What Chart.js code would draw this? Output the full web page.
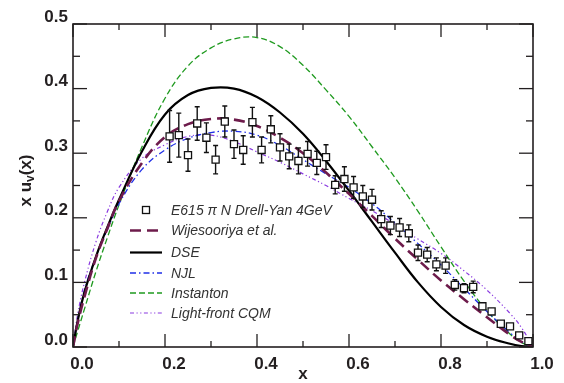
<!DOCTYPE html>
<html>
<head>
<meta charset="utf-8">
<script src="https://cdn.jsdelivr.net/npm/chart.js@4.4.1/dist/chart.umd.min.js"></script>
<style>
  html, body { margin: 0; padding: 0; background: #fff; }
  #wrap { width: 564px; height: 383px; }
</style>
</head>
<body>
<div id="wrap"><canvas id="chart" width="564" height="383"></canvas></div>
<script>
// E615 pi N Drell-Yan points: x, x u_v(x), error
const dataX = [0.21, 0.23, 0.25, 0.27, 0.29, 0.31, 0.33, 0.35, 0.37, 0.39,
               0.41, 0.43, 0.45, 0.47, 0.49, 0.51, 0.53, 0.55, 0.57, 0.59,
               0.61, 0.63, 0.65, 0.67, 0.69, 0.71, 0.73, 0.75, 0.77, 0.79,
               0.81, 0.83, 0.85, 0.87, 0.89, 0.91, 0.93, 0.95, 0.97, 0.99];
const dataY = [0.326, 0.328, 0.297, 0.346, 0.324, 0.290, 0.349, 0.314, 0.305, 0.348,
               0.305, 0.337, 0.309, 0.295, 0.288, 0.299, 0.285, 0.294, 0.251, 0.260,
               0.247, 0.233, 0.228, 0.198, 0.188, 0.185, 0.176, 0.146, 0.143, 0.128,
               0.126, 0.096, 0.091, 0.093, 0.063, 0.055, 0.036, 0.032, 0.018, 0.009];
const dataErr = [0.040, 0.034, 0.025, 0.026, 0.023, 0.022, 0.024, 0.022, 0.022, 0.023,
                 0.020, 0.021, 0.021, 0.019, 0.020, 0.019, 0.018, 0.019, 0.014, 0.019,
                 0.017, 0.017, 0.016, 0.013, 0.014, 0.014, 0.013, 0.012, 0.011, 0.010,
                 0.012, 0.008, 0.007, 0.009, 0.005, 0.004, 0, 0, 0, 0];

// model curves, sampled at curveX
const curveX = [0, 0.01, 0.025, 0.05, 0.075, 0.1, 0.15, 0.2, 0.25, 0.3, 0.35, 0.4, 0.45,
                0.5, 0.55, 0.6, 0.65, 0.7, 0.75, 0.8, 0.85, 0.9, 0.95, 0.975, 1.0];
const wijesooriya = [0, 0.036, 0.078, 0.138, 0.184, 0.226, 0.285, 0.325, 0.345, 0.353, 0.352, 0.342, 0.324,
                     0.300, 0.270, 0.237, 0.203, 0.168, 0.135, 0.103, 0.074, 0.046, 0.019, 0.008, 0];
const dse = [0, 0.040, 0.085, 0.140, 0.186, 0.228, 0.303, 0.360, 0.390, 0.401, 0.400, 0.387, 0.363,
             0.330, 0.288, 0.242, 0.194, 0.146, 0.100, 0.062, 0.034, 0.016, 0.005, 0.0015, 0];
const njl = [0, 0.040, 0.088, 0.140, 0.182, 0.222, 0.275, 0.305, 0.323, 0.332, 0.334, 0.328, 0.312,
             0.290, 0.268, 0.247, 0.222, 0.192, 0.160, 0.127, 0.091, 0.055, 0.022, 0.008, 0];
const instanton = [0, 0.024, 0.059, 0.117, 0.170, 0.220, 0.310, 0.385, 0.435, 0.463, 0.477, 0.479, 0.465,
                   0.436, 0.398, 0.357, 0.310, 0.262, 0.210, 0.155, 0.102, 0.056, 0.020, 0.007, 0];
const lfcqm = [0, 0.050, 0.100, 0.163, 0.210, 0.247, 0.292, 0.313, 0.326, 0.328, 0.318, 0.302, 0.286,
               0.268, 0.250, 0.230, 0.211, 0.190, 0.167, 0.145, 0.118, 0.088, 0.052, 0.030, 0];

const xTicks = [0, 0.2, 0.4, 0.6, 0.8, 1.0];
const xMinor = [0.1, 0.3, 0.5, 0.7, 0.9];
const yTicks = [0, 0.1, 0.2, 0.3, 0.4, 0.5];
const yMinor = [0.05, 0.15, 0.25, 0.35, 0.45];

const legendLabels = ['E615 \u03c0 N Drell-Yan 4GeV', 'Wijesooriya et al.', 'DSE', 'NJL', 'Instanton', 'Light-front CQM'];

const ink = '#231f20';
const pts = (xs, ys) => xs.map((x, i) => ({ x: x, y: ys[i] }));

function curve(label, ys, color, width, dash) {
  return {
    label: label,
    data: pts(curveX, ys),
    showLine: true,
    borderColor: color,
    borderWidth: width,
    borderDash: dash,
    pointRadius: 0,
    tension: 0.4,
    fill: false
  };
}

const datasets = [
  {
    label: legendLabels[0],
    data: pts(dataX, dataY),
    showLine: false,
    pointStyle: 'rect',
    pointRadius: 5,
    pointBackgroundColor: '#fff',
    pointBorderColor: '#111',
    pointBorderWidth: 1.3
  },
  curve(legendLabels[1], wijesooriya, '#6d1b4b', 2.6, [11, 6]),
  curve(legendLabels[2], dse, '#000', 2.2, []),
  curve(legendLabels[3], njl, '#1f2fe8', 1.3, [6, 3, 1.5, 3]),
  curve(legendLabels[4], instanton, '#1f9a1f', 1.3, [6, 3]),
  curve(legendLabels[5], lfcqm, '#8a3ae0', 1.2, [4, 2.5, 1.2, 2.5, 1.2, 2.5])
];

// vertical error bars under the squares
const errorBars = {
  id: 'errorBars',
  beforeDatasetDraw(chart, args) {
    if (args.index !== 0) return;
    const { ctx, scales: { x, y } } = chart;
    ctx.save();
    ctx.strokeStyle = '#111';
    ctx.lineWidth = 1.4;
    dataX.forEach((v, i) => {
      if (!dataErr[i]) return;
      const px = x.getPixelForValue(v);
      const top = y.getPixelForValue(dataY[i] + dataErr[i]);
      const bot = y.getPixelForValue(dataY[i] - dataErr[i]);
      ctx.beginPath();
      ctx.moveTo(px, top); ctx.lineTo(px, bot);
      ctx.moveTo(px - 2.5, top); ctx.lineTo(px + 2.5, top);
      ctx.moveTo(px - 2.5, bot); ctx.lineTo(px + 2.5, bot);
      ctx.stroke();
    });
    ctx.restore();
  }
};

// box frame, inward ticks on all four sides, axis title with subscript
const frame = {
  id: 'frame',
  afterDatasetsDraw(chart) {
    const { ctx, chartArea: a, scales: { x, y } } = chart;
    ctx.save();
    ctx.strokeStyle = ink;
    ctx.lineWidth = 1.6;
    ctx.strokeRect(a.left, a.top, a.right - a.left, a.bottom - a.top);
    ctx.lineWidth = 1.3;
    const seg = (x1, y1, x2, y2) => { ctx.beginPath(); ctx.moveTo(x1, y1); ctx.lineTo(x2, y2); ctx.stroke(); };
    const xt = (vals, len) => vals.forEach(v => {
      const p = x.getPixelForValue(v);
      seg(p, a.bottom, p, a.bottom - len);
      seg(p, a.top, p, a.top + len);
    });
    const yt = (vals, len) => vals.forEach(v => {
      const p = y.getPixelForValue(v);
      seg(a.left, p, a.left + len, p);
      seg(a.right, p, a.right - len, p);
    });
    xt(xTicks, 13); xt(xMinor, 6);
    yt(yTicks, 14); yt(yMinor, 7);

    // y title: x u_v(x)
    ctx.fillStyle = ink;
    ctx.translate(26, (a.top + a.bottom) / 2 - 5);
    ctx.rotate(-Math.PI / 2);
    ctx.textBaseline = 'middle';
    const big = 'bold 17px "Liberation Sans", Arial, sans-serif';
    const small = 'bold 12px "Liberation Sans", Arial, sans-serif';
    ctx.font = big;
    const w1 = ctx.measureText('x u').width;
    const w3 = ctx.measureText('(x)').width;
    ctx.font = small;
    const w2 = ctx.measureText('v').width;
    let sx = -(w1 + w2 + w3) / 2;
    ctx.font = big; ctx.textAlign = 'left';
    ctx.fillText('x u', sx, 0);
    ctx.font = small;
    ctx.fillText('v', sx + w1, 5);
    ctx.font = big;
    ctx.fillText('(x)', sx + w1 + w2, 0);
    ctx.restore();
  }
};

// legend inside the plot, lower left
const insideLegend = {
  id: 'insideLegend',
  afterDraw(chart) {
    const { ctx, chartArea: a } = chart;
    const x0 = a.left + 57, x1 = a.left + 89, tx = a.left + 98;
    const rows = [210, 230.5, 252.5, 273, 293, 313];
    ctx.save();
    ctx.font = 'italic 14px "Liberation Sans", Arial, sans-serif';
    ctx.textBaseline = 'middle';
    chart.data.datasets.forEach((ds, i) => {
      const ry = rows[i];
      if (i === 0) {
        ctx.fillStyle = '#fff';
        ctx.strokeStyle = '#111';
        ctx.lineWidth = 1.3;
        ctx.fillRect(x0 + 12.5, ry - 3.5, 7, 7);
        ctx.strokeRect(x0 + 12.5, ry - 3.5, 7, 7);
      } else {
        ctx.strokeStyle = ds.borderColor;
        ctx.lineWidth = ds.borderWidth;
        ctx.setLineDash(ds.borderDash);
        ctx.beginPath(); ctx.moveTo(x0, ry); ctx.lineTo(x1, ry); ctx.stroke();
        ctx.setLineDash([]);
      }
      ctx.fillStyle = '#333';
      ctx.fillText(ds.label, tx, ry + 1);
    });
    ctx.restore();
  }
};

const tickFont = { family: '"Liberation Sans", Arial, sans-serif', size: 17, weight: 'bold' };

new Chart(document.getElementById('chart'), {
  type: 'scatter',
  data: { datasets: datasets },
  options: {
    responsive: false,
    animation: false,
    layout: { padding: { top: 24, right: 31, left: 0, bottom: 0 } },
    plugins: { legend: { display: false }, tooltip: { enabled: false } },
    scales: {
      x: {
        type: 'linear', min: 0, max: 1,
        grid: { display: false, drawTicks: false }, border: { display: false },
        afterBuildTicks: s => { s.ticks = xTicks.map(v => ({ value: v })); },
        afterFit: s => { s.height = 36; },
        ticks: { font: tickFont, color: ink, padding: 7, labelOffset: 9, maxRotation: 0,
                 callback: v => v.toFixed(1) },
        title: { display: true, text: 'x', font: tickFont, color: ink, padding: { top: 0, bottom: -2 } }
      },
      y: {
        type: 'linear', min: 0, max: 0.5,
        grid: { display: false, drawTicks: false }, border: { display: false },
        afterBuildTicks: s => { s.ticks = yTicks.map(v => ({ value: v })); },
        afterFit: s => { s.width = 73; },
        ticks: { font: tickFont, color: ink, padding: 5, labelOffset: -7,
                 callback: v => v.toFixed(1) }
      }
    }
  },
  plugins: [errorBars, frame, insideLegend]
});
</script>
</body>
</html>
